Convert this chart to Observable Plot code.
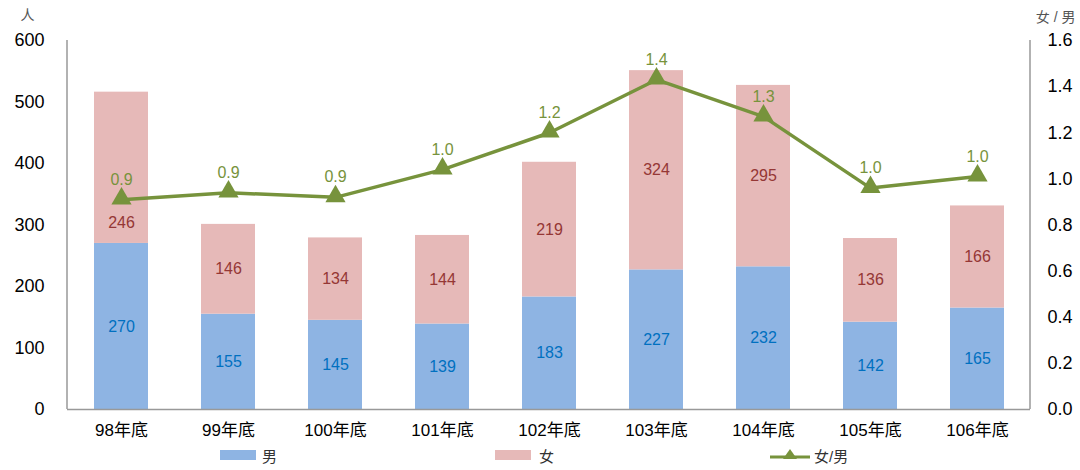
<!DOCTYPE html>
<html>
<head>
<meta charset="utf-8">
<script src="https://cdn.jsdelivr.net/npm/d3@7"></script>
<script src="https://cdn.jsdelivr.net/npm/@observablehq/plot@0.6"></script>
<style>
  body { margin: 0; background: #fff; font-family: "Liberation Sans", "Noto Sans CJK TC", sans-serif; }
  #legend { position: relative; height: 30px; width: 1080px; font-size: 15px; color: #333; }
  #legend .item { position: absolute; top: 4px; display: flex; align-items: center; height: 22px; }
</style>
</head>
<body>
<div id="chart"></div>
<div id="legend">
  <div class="item" style="left:220px"><svg width="36" height="12"><rect width="36" height="10" y="1" fill="#8EB4E3"/></svg><span style="margin-left:6px">男</span></div>
  <div class="item" style="left:495px"><svg width="36" height="12"><rect width="36" height="10" y="1" fill="#E6B9B8"/></svg><span style="margin-left:8px">女</span></div>
  <div class="item" style="left:770px"><svg width="40" height="16"><line x1="0" x2="40" y1="10" y2="10" stroke="#77933C" stroke-width="3"/><path d="M20,2 L27,12 L13,12 Z" fill="#77933C"/></svg><span style="margin-left:4px">女/男</span></div>
</div>
<script>
const categories = ["98年底", "99年底", "100年底", "101年底", "102年底", "103年底", "104年底", "105年底", "106年底"];
const male   = [270, 155, 145, 139, 183, 227, 232, 142, 165];
const female = [246, 146, 134, 144, 219, 324, 295, 136, 166];
const ratio  = [0.91, 0.94, 0.92, 1.04, 1.20, 1.43, 1.27, 0.96, 1.01];
const ratioLabels = ["0.9", "0.9", "0.9", "1.0", "1.2", "1.4", "1.3", "1.0", "1.0"];
const leftTicks = [0, 100, 200, 300, 400, 500, 600];
const rightTicks = [0, 0.2, 0.4, 0.6, 0.8, 1.0, 1.2, 1.4, 1.6];

const K = 600 / 1.6; // ratio -> people scale factor for secondary axis

const bars = [];
categories.forEach((c, i) => {
  bars.push({cat: c, sex: "男", value: male[i], i});
  bars.push({cat: c, sex: "女", value: female[i], i});
});
const lineData = categories.map((c, i) => ({cat: c, r: ratio[i], label: ratioLabels[i]}));
const maleLabels = categories.map((c, i) => ({cat: c, y: male[i] / 2, t: String(male[i])}));
const femaleLabels = categories.map((c, i) => ({cat: c, y: male[i] + female[i] / 2, t: String(female[i]), i}));

const font = "Liberation Sans, Noto Sans CJK TC, sans-serif";

const chart = Plot.plot({
  width: 1080,
  height: 440,
  marginTop: 40,
  marginBottom: 31,
  marginLeft: 67,
  marginRight: 50,
  style: {fontFamily: font, fontSize: "17px", color: "#000", background: "#fff"},
  x: {domain: categories, paddingInner: 0.5, paddingOuter: 0.25, label: null},
  y: {domain: [0, 600], label: null},
  color: {domain: ["男", "女"], range: ["#8EB4E3", "#E6B9B8"]},
  marks: [
    Plot.barY(bars, {x: "cat", y: "value", fill: "sex", order: ["男", "女"], inset: 0}),
    Plot.axisY({ticks: leftTicks, tickSize: 0, tickPadding: 23, fontSize: 18, anchor: "left", label: null}),
    Plot.axisY({ticks: rightTicks.map(d => d * K), tickFormat: d => (d / K).toFixed(1), tickSize: 0, tickPadding: 17, fontSize: 18, anchor: "right", label: null}),
    Plot.axisX({tickSize: 0, tickPadding: 14, fontSize: 17, label: null}),
    Plot.ruleY([0], {stroke: "#999", strokeWidth: 1.5}),
    Plot.text(maleLabels, {x: "cat", y: "y", text: "t", fill: "#0070C0", fontSize: 16}),
    Plot.text(femaleLabels, {filter: d => d.i !== 0, x: "cat", y: "y", text: "t", fill: "#953735", fontSize: 16}),
    Plot.text(femaleLabels, {filter: d => d.i === 0, x: "cat", y: "y", text: "t", fill: "#953735", fontSize: 16, dy: 55}),
    Plot.line(lineData, {x: "cat", y: d => d.r * K, stroke: "#77933C", strokeWidth: 3.5}),
    Plot.dot(lineData, {x: "cat", y: d => d.r * K, symbol: "triangle", r: 7.5, fill: "#77933C", dy: -1}),
    Plot.text(lineData, {x: "cat", y: d => d.r * K, text: "label", fill: "#77933C", fontSize: 16, dy: -20}),
    Plot.text(["人"], {frameAnchor: "top-left", dx: -47, dy: -30, fontSize: 14, fill: "#555"}),
    Plot.text(["女 / 男"], {frameAnchor: "top-right", dx: 45, dy: -28, fontSize: 14, fill: "#555"})
  ]
});

// vertical axis lines on both sides
const svg = d3.select(chart);
svg.append("line").attr("x1", 67).attr("x2", 67).attr("y1", 40).attr("y2", 409).attr("stroke", "#999").attr("stroke-width", 1.5);
svg.append("line").attr("x1", 1030).attr("x2", 1030).attr("y1", 40).attr("y2", 409).attr("stroke", "#999").attr("stroke-width", 1.5);
document.getElementById("chart").appendChild(chart);
</script>
</body>
</html>
